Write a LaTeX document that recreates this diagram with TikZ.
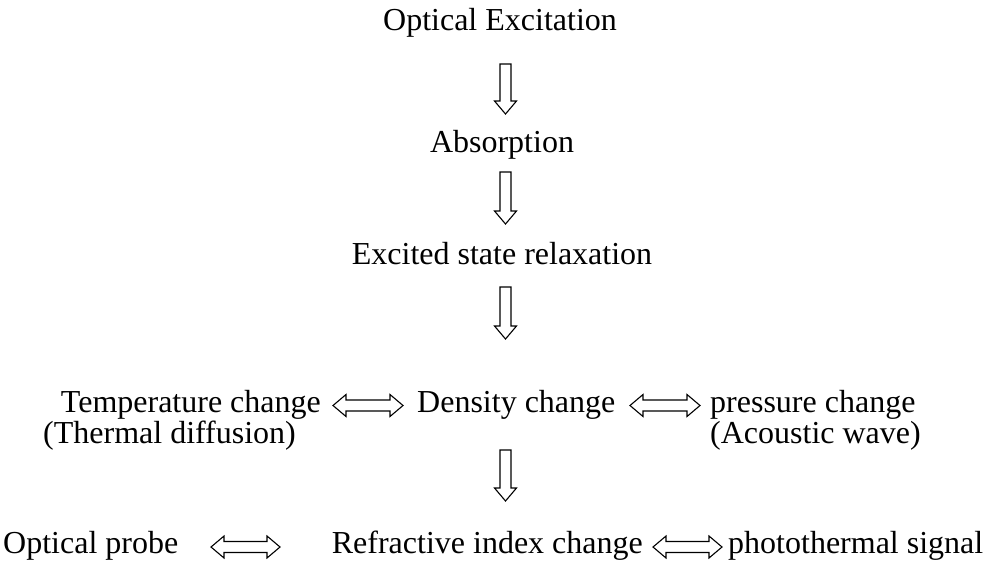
\documentclass[tikz,border=0pt]{standalone}
\usepackage{fontspec}
\setmainfont{Liberation Serif}
\usepackage{tikz}
\usetikzlibrary{calc}

% hollow block arrows
\newcommand{\shaftw}{5.5pt}
\newcommand{\headw}{11pt}
\newcommand{\headl}{13pt}
\newcommand{\blockarrow}[2]{%
  \coordinate (hb) at ($(#2)!\headl!(#1)$);
  \draw[arrowline] ($(#1)!\shaftw!90:(#2)$) -- ($(hb)!\shaftw!90:(#2)$) -- ($(hb)!\headw!90:(#2)$) -- (#2)
    -- ($(hb)!\headw!-90:(#2)$) -- ($(hb)!\shaftw!-90:(#2)$) -- ($(#1)!\shaftw!-90:(#2)$) -- cycle;}
\newcommand{\blockdarrow}[2]{%
  \coordinate (ha) at ($(#1)!\headl!(#2)$);
  \coordinate (hb) at ($(#2)!\headl!(#1)$);
  \draw[arrowline] (#1) -- ($(ha)!\headw!-90:(#1)$) -- ($(ha)!\shaftw!-90:(#1)$) -- ($(hb)!\shaftw!90:(#2)$)
    -- ($(hb)!\headw!90:(#2)$) -- (#2) -- ($(hb)!\headw!-90:(#2)$) -- ($(hb)!\shaftw!-90:(#2)$)
    -- ($(ha)!\shaftw!90:(#1)$) -- ($(ha)!\headw!90:(#1)$) -- cycle;}

\tikzset{
  label/.style={inner sep=0pt, font=\fontsize{32}{38}\selectfont},
  arrowline/.style={line width=1.1pt, line join=miter}
}

\begin{document}
\begin{tikzpicture}[x=1pt,y=-1pt]
        \useasboundingbox (0,0) rectangle (992,560);

        % Chain of steps
        \node[label, anchor=base] (excite) at (500,30) {Optical Excitation};
        \node[label, anchor=base] (absorb) at (502,152) {Absorption};
        \node[label, anchor=base] (relax) at (502,264) {Excited state relaxation};

        % Middle row
        \node[label, anchor=base east] (temp) at (321,412) {Temperature change};
        \node[label, anchor=base west] (tempsub) at (43,443) {(Thermal diffusion)};
        \node[label, anchor=base west] (density) at (417,412) {Density change};
        \node[label, anchor=base west] (press) at (710,412) {pressure change};
        \node[label, anchor=base west] (presssub) at (710,443) {(Acoustic wave)};

        % Bottom row
        \node[label, anchor=base west] (probe) at (3,553) {Optical probe};
        \node[label, anchor=base east] (refr) at (643,553) {Refractive index change};
        \node[label, anchor=base west] (signal) at (728,553) {photothermal signal};

        % Arrow end points
        \coordinate (a1s) at (505.5,64);  \coordinate (a1e) at (505.5,114);
        \coordinate (a2s) at (505.5,172); \coordinate (a2e) at (505.5,224);
        \coordinate (a3s) at (505.5,287); \coordinate (a3e) at (505.5,339);
        \coordinate (a4s) at (505.5,450); \coordinate (a4e) at (505.5,501);
        \coordinate (d1l) at (333,405.5); \coordinate (d1r) at (403,405.5);
        \coordinate (d2l) at (630,405.5); \coordinate (d2r) at (700,405.5);
        \coordinate (d3l) at (211,547);   \coordinate (d3r) at (280,547);
        \coordinate (d4l) at (653,547);   \coordinate (d4r) at (722,547);

        \blockarrow{a1s}{a1e} % excitation to absorption
        \blockarrow{a2s}{a2e} % absorption to relaxation
        \blockarrow{a3s}{a3e} % relaxation to density
        \blockarrow{a4s}{a4e} % density to refractive index
        \blockdarrow{d1l}{d1r}
        \blockdarrow{d2l}{d2r}
        \blockdarrow{d3l}{d3r}
        \blockdarrow{d4l}{d4r}
    \end{tikzpicture}
\end{document}
